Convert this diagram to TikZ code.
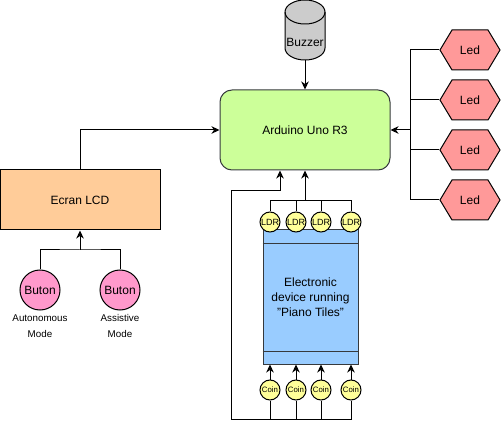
\documentclass[tikz,border=0pt]{standalone}
\usepackage{fontspec}
\setmainfont{Liberation Sans}
\usetikzlibrary{shapes.symbols,arrows.meta}
\definecolor{unoGreen}{HTML}{CCFF99}
\definecolor{lcdOrange}{HTML}{FFCC99}
\definecolor{ledRed}{HTML}{FF9999}
\definecolor{butonPink}{HTML}{FF99CC}
\definecolor{deviceBlue}{HTML}{99CCFF}
\definecolor{sensorYellow}{HTML}{FFFF99}
\definecolor{buzzGray}{HTML}{CCCCCC}
\definecolor{edge}{HTML}{36393D}
\newcommand{\fsize}[2]{\fontsize{#1}{#2}\selectfont}

\begin{document}
\begin{tikzpicture}[x=1pt,y=-1pt,line width=1pt,
    wire/.style={draw=black,line width=1pt},
    tip/.style={-{Stealth[length=8pt,width=7.5pt,inset=2.5pt]}},
    board/.style={draw=edge,fill=unoGreen,rounded corners=12pt,minimum width=170pt,minimum height=80pt,font=\fsize{12}{14}},
    lcdbox/.style={draw=black,fill=lcdOrange,minimum width=160pt,minimum height=60pt,font=\fsize{12}{14}},
    buzz/.style={minimum width=40pt,minimum height=60pt,inner sep=0pt,text height=34pt,text depth=0pt,font=\fsize{12}{14}},
    led/.style={signal,signal to=east and west,signal pointer angle=118,draw=black,fill=ledRed,minimum width=60pt,minimum height=40pt,inner sep=0pt,font=\fsize{12}{14}},
    buton/.style={circle,draw=black,fill=butonPink,minimum size=40pt,inner sep=0pt,font=\fsize{12}{14}},
    note/.style={align=center,inner sep=0pt,font=\fsize{9.8}{16}},
    device/.style={draw=edge,fill=deviceBlue,minimum width=95pt,minimum height=134pt,align=center,inner sep=0pt,font=\fsize{12}{15}},
    sensor/.style={circle,draw=black,fill=sensorYellow,minimum size=20pt,inner sep=0pt}]
  \useasboundingbox (0,0) rectangle (501,422);

  % buzzer drawn as a cylinder
  \filldraw[fill=buzzGray,draw=black] (285,12) -- (285,48)
    arc[start angle=180,end angle=0,x radius=20,y radius=12] -- (325,12)
    arc[start angle=0,end angle=-180,x radius=20,y radius=12] -- cycle;
  \draw (285,12) arc[start angle=180,end angle=0,x radius=20,y radius=12];

  % main board and its inputs
  \node[board] (uno) at (305,130) {Arduino Uno R3};
  \node[buzz] (buzzer) at (305,30) {Buzzer};
  \foreach \y [count=\i] in {50,100,150,200}
    \node[led] (led\i) at (470,\y) {Led};
  \node[lcdbox] (lcd) at (80,200) {Ecran LCD};
  \node[buton] (b1) at (40,290) {Buton};
  \node[buton] (b2) at (120,290) {Buton};
  \node[note] (m1) at (40,326) {Autonomous\\Mode};
  \node[note] (m2) at (120,326) {Assistive\\Mode};

  % phone with the sensors
  \node[device] (dev) at (310.5,297) {Electronic\\device running\\"Piano Tiles"};
  \draw[draw=edge] (dev.north west) ++(0,14) -- ++(95,0);
  \draw[draw=edge] (dev.south west) ++(0,-13) -- ++(95,0);
  \foreach \x [count=\i] in {270,296,321,351} {
    \node[sensor,font=\fsize{9}{10}] (ldr\i) at (\x,222) {LDR};
    \node[sensor,font=\fsize{7.8}{9}] (coin\i) at (\x,390) {Coin};
  }

  \coordinate (ledbus) at (410,130);
  \coordinate (bjoin) at (80,250);
  \coordinate (ldrbus) at (305,201);
  \coordinate (coinbus) at (231,419);
  \coordinate (coinup) at (280,191);

  \draw[wire,tip] (buzzer) -- (uno);
  \draw[wire,tip] (lcd.north) |- (uno.west);
  \draw[wire] (b1.north) |- (bjoin) -| (b2.north);
  \draw[wire,tip] (bjoin) -- (lcd.south);
  \foreach \i in {1,...,4} {
    \draw[wire] (led\i.west) -| (ledbus);
    \draw[wire] (ldr\i.north) |- (ldrbus);
    \draw[wire,tip] (coin\i.north) -- (coin\i.north |- dev.south);
    \draw[wire] (coin\i.south) |- (coinbus);
  }
  \draw[wire,tip] (ledbus) -- (uno.east);
  \draw[wire,tip] (ldrbus) -- (ldrbus |- uno.south);
  \draw[wire,tip] (coinbus) |- (coinup) -- (coinup |- uno.south);
\end{tikzpicture}
\end{document}
